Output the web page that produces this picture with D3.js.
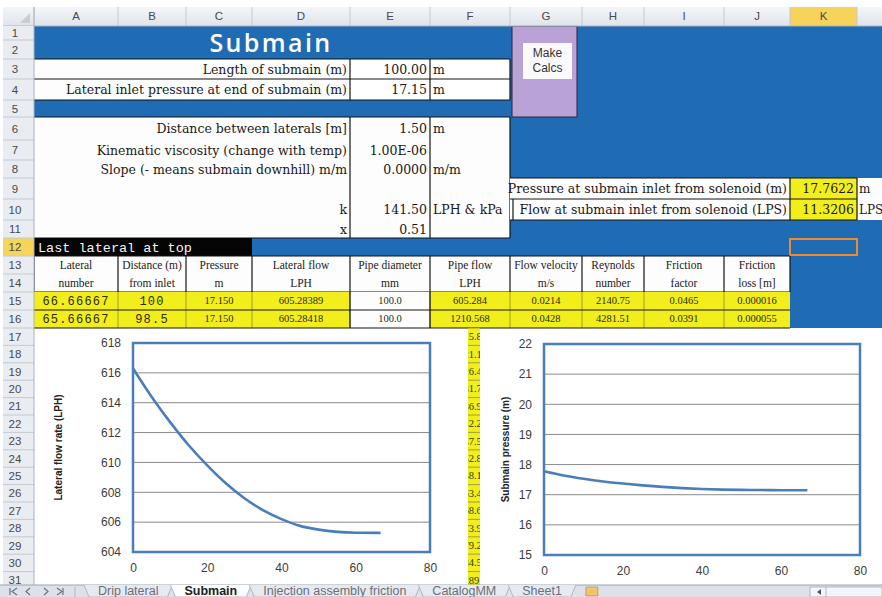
<!DOCTYPE html>
<html>
<head>
<meta charset="utf-8">
<script src="https://cdn.jsdelivr.net/npm/d3@7"></script>
<style>
  body { margin: 0; background: #fff; overflow: hidden; }
  svg { display: block; }
</style>
</head>
<body>
<script>
// ---- sheet data ----
const colLetters = ["A", "B", "C", "D", "E", "F", "G", "H", "I", "J", "K", "L"];
const rowNumbers = d3.range(1, 32);

const inputRows = [3, 4, 6, 7, 8, 9, 10, 11];
const inputLabels = ["Length of submain (m)", "Lateral inlet pressure at end of submain (m)",
  "Distance between laterals [m]", "Kinematic viscosity (change with temp)",
  "Slope (- means submain downhill) m/m", "", "k", "x"];
const inputValues = ["100.00", "17.15", "1.50", "1.00E-06", "0.0000", "", "141.50", "0.51"];
const inputUnits = ["m", "m", "m", "", "m/m", "", "LPH & kPa", ""];

const resultLabels = ["Pressure at submain inlet from solenoid (m)", "Flow at submain inlet from solenoid (LPS)"];
const resultValues = ["17.7622", "11.3206"];
const resultUnits = ["m", "LPS"];

const tableHead1 = ["Lateral", "Distance (m)", "Pressure", "Lateral flow", "Pipe diameter",
  "Pipe flow", "Flow velocity", "Reynolds", "Friction", "Friction"];
const tableHead2 = ["number", "from inlet", "m", "LPH", "mm", "LPH", "m/s", "number", "factor", "loss [m]"];
const tableRow15 = ["66.66667", "100", "17.150", "605.28389", "100.0", "605.284", "0.0214", "2140.75", "0.0465", "0.000016"];
const tableRow16 = ["65.66667", "98.5", "17.150", "605.28418", "100.0", "1210.568", "0.0428", "4281.51", "0.0391", "0.000055"];
// pipe flow column peeking out between the two charts (rows 17-31)
const hiddenPipeFlow = ["1815.85", "2421.14", "3026.42", "3631.70", "4236.99", "4842.27", "5447.56",
  "6052.84", "6658.12", "7263.41", "7868.69", "8473.98", "9079.26", "9684.54", "10289.8"];

const tabNames = ["Drip lateral", "Submain", "Injection assembly friction", "CatalogMM", "Sheet1"];
const activeTab = "Submain";

// ---- chart data ----
const lateralNumber = [0, 5, 10, 15, 20, 25, 30, 35, 40, 45, 50, 55, 60, 66.67];
const lateralFlow = [616.3, 614.4, 612.7, 611.15, 609.8, 608.6, 607.6, 606.8, 606.2, 605.75, 605.5, 605.35, 605.29, 605.28];
const submainPressure = [17.78, 17.64, 17.53, 17.44, 17.37, 17.31, 17.26, 17.22, 17.19, 17.17, 17.16, 17.155, 17.15, 17.15];
const flowTicks = [604, 606, 608, 610, 612, 614, 616, 618];
const pressureTicks = [15, 16, 17, 18, 19, 20, 21, 22];
const xTicks = [0, 20, 40, 60, 80];

// ---- layout ----
const W = 882, H = 597;
const BLUE = "#1f6cb4", YELLOW = "#f2ee1c", LINE = "#151515";
const serif = "'Liberation Serif', 'DejaVu Serif', serif";
const wideSerif = "'DejaVu Serif', 'Liberation Serif', serif";
const sans = "'Liberation Sans', Arial, sans-serif";
const mono = "'Liberation Mono', 'DejaVu Sans Mono', monospace";

const colEdges = [34, 118, 186, 252, 350, 430, 510, 582, 644, 724, 790, 857, 940];
const rowEdges = [26, 40, 59, 79, 100, 117, 140, 160, 178, 199, 220, 238, 256, 274, 292, 310, 328];
while (rowEdges.length < 33) rowEdges.push(rowEdges[rowEdges.length - 1] + 17.4);

const cx = c => colEdges[c];                 // c = 0 for column A
const ry = r => rowEdges[r - 1];             // r = sheet row number
const midX = c => (colEdges[c] + colEdges[c + 1]) / 2;
const midY = r => (rowEdges[r - 1] + rowEdges[r]) / 2;

const svg = d3.select("body").append("svg").attr("width", W).attr("height", H);
const defs = svg.append("defs");
svg.append("rect").attr("width", W).attr("height", H).attr("fill", "#fff");

function cell(c0, c1, r0, r1, fill, stroke) {
  return svg.append("rect")
    .attr("x", cx(c0)).attr("y", ry(r0))
    .attr("width", cx(c1 + 1) - cx(c0)).attr("height", ry(r1 + 1) - ry(r0))
    .attr("fill", fill)
    .attr("stroke", stroke || "none").attr("stroke-width", 1.2);
}
function hline(x1, x2, y, col, w) {
  svg.append("line").attr("x1", x1).attr("x2", x2).attr("y1", y).attr("y2", y)
    .attr("stroke", col || LINE).attr("stroke-width", w || 1.2);
}
function vline(x, y1, y2, col, w) {
  svg.append("line").attr("x1", x).attr("x2", x).attr("y1", y1).attr("y2", y2)
    .attr("stroke", col || LINE).attr("stroke-width", w || 1.2);
}
let clipId = 0;
function clipFor(x, y, w, h) {
  const id = "clip" + (clipId++);
  defs.append("clipPath").attr("id", id).append("rect")
    .attr("x", x).attr("y", y).attr("width", w).attr("height", h);
  return `url(#${id})`;
}
function label(x, y, txt, opts) {
  const o = Object.assign({ size: 12.5, family: wideSerif, fill: "#1a1a1a", anchor: "start", weight: "normal" }, opts);
  return svg.append("text").attr("x", x).attr("y", y)
    .attr("text-anchor", o.anchor).attr("dominant-baseline", "middle")
    .attr("font-family", o.family).attr("font-size", o.size)
    .attr("font-weight", o.weight).attr("fill", o.fill)
    .attr("letter-spacing", o.spacing || null)
    .attr("clip-path", o.clip || null)
    .text(txt);
}

// ---- sheet background: blue block rows 1-16 ----
svg.append("rect").attr("x", cx(0)).attr("y", ry(1))
  .attr("width", W - cx(0)).attr("height", ry(17) - ry(1)).attr("fill", BLUE);

// title
label(271, 45, "Submain", { size: 25, family: "'Open Sans', 'DejaVu Sans', sans-serif", fill: "#fff", anchor: "middle", spacing: 2.4, weight: 600 });

// input block
cell(0, 3, 3, 3, "#fdfdfd"); cell(4, 4, 3, 3, "#fff"); cell(5, 5, 3, 3, "#fff");
cell(0, 3, 4, 4, "#fdfdfd"); cell(4, 4, 4, 4, "#fff"); cell(5, 5, 4, 4, "#fff");
cell(0, 5, 6, 11, "#fdfdfd");
[ry(3), ry(4), ry(5)].forEach(y => hline(cx(0), cx(6), y));
hline(cx(0), cx(6), ry(6)); hline(cx(0), cx(6), ry(12));
[cx(4), cx(5), cx(6)].forEach(x => { vline(x, ry(3), ry(5)); vline(x, ry(6), ry(12)); });

inputRows.forEach((r, i) => {
  label(cx(4) - 3, midY(r) + 1, inputLabels[i], { anchor: "end" });
  label(cx(5) - 3, midY(r) + 1, inputValues[i], { anchor: "end" });
  label(cx(5) + 3, midY(r) + 1, inputUnits[i]);
});

// results rows 9-10
[9, 10].forEach((r, i) => {
  cell(6, 9, r, r, "#fdfdfd");
  cell(10, 10, r, r, YELLOW);
  svg.append("rect").attr("x", cx(11)).attr("y", ry(r)).attr("width", W - cx(11))
    .attr("height", ry(r + 1) - ry(r)).attr("fill", "#fdfdfd");
  label(cx(10) - 3, midY(r) + 1, resultLabels[i], { anchor: "end" });
  label(cx(11) - 3, midY(r) + 1, resultValues[i], { anchor: "end" });
  label(cx(11) + 2, midY(r) + 1, resultUnits[i], { size: 12 });
});
hline(cx(6), cx(11), ry(9)); hline(cx(6), cx(11), ry(10)); hline(cx(6), cx(11), ry(11));
vline(cx(6) + 3, ry(10), ry(11));
vline(cx(10), ry(9), ry(11)); vline(cx(11), ry(9), ry(11));

// "Make Calcs" button
svg.append("rect").attr("x", cx(6) + 2).attr("y", ry(1)).attr("width", 65).attr("height", ry(6) - ry(1))
  .attr("fill", "#b8a2d6").attr("stroke", "#2a2540").attr("stroke-width", 1);
svg.append("rect").attr("x", cx(6) + 13).attr("y", 43).attr("width", 49).attr("height", 36)
  .attr("fill", "#faf9fc");
label(cx(6) + 37.5, 54, "Make", { family: sans, size: 12, anchor: "middle", fill: "#333" });
label(cx(6) + 37.5, 69, "Calcs", { family: sans, size: 12, anchor: "middle", fill: "#333" });

// row 12 banner
cell(0, 2, 12, 12, "#050505");
label(cx(0) + 4, midY(12) + 1, "Last lateral at top", { family: mono, size: 13.5, fill: "#f4f4f4" });
svg.append("rect").attr("x", cx(10)).attr("y", ry(12) + 1).attr("width", cx(11) - cx(10))
  .attr("height", ry(13) - ry(12) - 2).attr("fill", "none").attr("stroke", "#f08a2a").attr("stroke-width", 2);

// table header rows 13-14
cell(0, 9, 13, 14, "#fdfdfd");
hline(cx(0), cx(10), ry(13)); hline(cx(0), cx(10), ry(15));
d3.range(0, 11).forEach(c => vline(cx(c), ry(13), ry(15)));
tableHead1.forEach((t, c) => {
  const clip = clipFor(cx(c) + 1, ry(13), cx(c + 1) - cx(c) - 2, ry(15) - ry(13));
  label(midX(c), midY(13) + 1, t, { family: serif, size: 11.5, anchor: "middle", clip });
  label(midX(c), midY(14) + 1, tableHead2[c], { family: serif, size: 11.5, anchor: "middle", clip });
});

// data rows 15-16
[[15, tableRow15], [16, tableRow16]].forEach(([r, vals]) => {
  vals.forEach((v, c) => cell(c, c, r, r, c === 4 ? "#fdfdfd" : YELLOW));
});
d3.range(1, 10).forEach(c => vline(cx(c), ry(15), ry(17), "#8f8c2a", 0.8));
vline(cx(4), ry(15), ry(17)); vline(cx(5), ry(15), ry(17));
hline(cx(0), cx(10), ry(16)); hline(cx(0), cx(10), ry(17));
[[15, tableRow15], [16, tableRow16]].forEach(([r, vals]) => {
  vals.forEach((v, c) => {
    const isMono = c < 2;
    label(midX(c), midY(r) + 1, v, {
      family: isMono ? mono : serif, size: isMono ? 12 : 10.5, anchor: "middle",
      spacing: isMono ? 1.2 : null, fill: "#2a2a10"
    });
  });
});

// ---- row 17+ : white area with pipe-flow strip between charts ----
const stripX0 = 468, stripX1 = 480;
hiddenPipeFlow.forEach((v, i) => {
  const r = 17 + i;
  svg.append("rect").attr("x", stripX0).attr("y", ry(r)).attr("width", stripX1 - stripX0)
    .attr("height", ry(r + 1) - ry(r)).attr("fill", YELLOW);
  hline(stripX0, stripX1, ry(r), "#8f8c2a", 0.8);
  label(cx(5) + 40, midY(r) + 1, v, { family: serif, size: 10.5, anchor: "middle", fill: "#3a3a10",
    clip: clipFor(stripX0, ry(r), stripX1 - stripX0, ry(r + 1) - ry(r)) });
});

// ---- charts ----
function drawChart(xScale, yScale, yTickVals, values, title, titleX) {
  const g = svg.append("g");
  const [px0, px1] = xScale.range();
  const [py1, py0] = yScale.range();
  g.append("g").selectAll("line").data(yTickVals).join("line")
    .attr("x1", px0).attr("x2", px1)
    .attr("y1", d => yScale(d)).attr("y2", d => yScale(d))
    .attr("stroke", "#8a8a8a").attr("stroke-width", 1);

  const yAxis = g.append("g").attr("transform", `translate(${px0},0)`)
    .call(d3.axisLeft(yScale).tickValues(yTickVals).tickFormat(d3.format("d")).tickSize(0).tickPadding(12));
  const xAxis = g.append("g").attr("transform", `translate(0,${py1})`)
    .call(d3.axisBottom(xScale).tickValues(xTicks).tickFormat(d3.format("d")).tickSize(0).tickPadding(11));
  [yAxis, xAxis].forEach(a => {
    a.select(".domain").remove();
    a.selectAll("text").attr("font-family", sans).attr("font-size", 12).attr("fill", "#3c3c3c");
  });

  g.append("rect").attr("x", px0).attr("y", py0).attr("width", px1 - px0).attr("height", py1 - py0)
    .attr("fill", "none").attr("stroke", "#4a7ebb").attr("stroke-width", 2.5);

  const line = d3.line().x(d => xScale(d[0])).y(d => yScale(d[1])).curve(d3.curveMonotoneX);
  g.append("path").datum(d3.zip(lateralNumber, values))
    .attr("d", line).attr("fill", "none").attr("stroke", "#4a7ebb").attr("stroke-width", 2.6);

  g.append("text")
    .attr("transform", `translate(${titleX},${(py0 + py1) / 2}) rotate(-90)`)
    .attr("text-anchor", "middle").attr("dominant-baseline", "middle")
    .attr("font-family", sans).attr("font-size", 10).attr("font-weight", "bold").attr("fill", "#222")
    .text(title);
}

const x1 = d3.scaleLinear().domain([0, 80]).range([133, 430]);
const y1 = d3.scaleLinear().domain([604, 618]).range([552, 343]);
drawChart(x1, y1, flowTicks, lateralFlow, "Lateral flow rate (LPH)", 59);

const x2 = d3.scaleLinear().domain([0, 80]).range([544, 860]);
const y2 = d3.scaleLinear().domain([15, 22]).range([555, 344]);
drawChart(x2, y2, pressureTicks, submainPressure, "Submain pressure (m)", 506);

// ---- column header bar ----
const grad = defs.append("linearGradient").attr("id", "hdr").attr("x1", 0).attr("x2", 0).attr("y1", 0).attr("y2", 1);
grad.append("stop").attr("offset", 0).attr("stop-color", "#f4f6f9");
grad.append("stop").attr("offset", 1).attr("stop-color", "#dfe4eb");
svg.append("rect").attr("x", 3).attr("y", 7).attr("width", W - 3).attr("height", ry(1) - 7).attr("fill", "url(#hdr)");
svg.append("rect").attr("x", cx(10)).attr("y", 7).attr("width", cx(11) - cx(10)).attr("height", ry(1) - 7)
  .attr("fill", "#f6d35a");
colLetters.forEach((L, c) => {
  vline(cx(c), 7, ry(1), "#c4cad3", 1);
  if (midX(c) < W - 10) label(midX(c), 17, L, { family: sans, size: 11.5, anchor: "middle", fill: "#4a4a4a" });
});
hline(3, W, ry(1), "#aab2be", 1);

// ---- row header column ----
svg.append("rect").attr("x", 3).attr("y", ry(1)).attr("width", cx(0) - 3).attr("height", H - ry(1)).attr("fill", "#e9ecf1");
svg.append("rect").attr("x", 3).attr("y", ry(12)).attr("width", cx(0) - 3).attr("height", ry(13) - ry(12)).attr("fill", "#f6d35a");
rowNumbers.forEach(r => {
  hline(3, cx(0), ry(r + 1), "#c4cad3", 1);
  label(15, midY(r) + 1, r, { family: sans, size: 11.5, anchor: "middle", fill: "#4a4a4a" });
});
vline(cx(0), 7, H, "#aab2be", 1);
svg.append("path").attr("d", "M20,23 L30,23 L30,13 Z").attr("fill", "#c8ced7");

// ---- sheet tab bar ----
const tabY = 585;
svg.append("rect").attr("x", 0).attr("y", tabY).attr("width", W).attr("height", H - tabY).attr("fill", "#dde2ea");
hline(0, W, tabY, "#9aa3b0", 1);
["M10,588 V595 M17,588 L12,591.5 L17,595", "M30,588 L26,591.5 L30,595", "M44,588 L48,591.5 L44,595", "M57,588 L62,591.5 L57,595 M63,588 V595"]
  .forEach(d => svg.append("path").attr("d", d).attr("fill", "none").attr("stroke", "#6a7380").attr("stroke-width", 1.2));
vline(75, tabY + 2, H, "#b0b7c2", 1);

let tx = 84;
tabNames.forEach(name => {
  const active = name === activeTab;
  const t = label(0, 592, name, { family: sans, size: 12.5, fill: active ? "#222" : "#6a6f78", weight: active ? "bold" : "normal" });
  const w = t.node().getComputedTextLength();
  const pad = 9;
  const path = `M${tx},${tabY} L${tx + 5},${H} L${tx + w + 2 * pad + 5},${H} L${tx + w + 2 * pad + 10},${tabY}`;
  svg.insert("path", () => t.node()).attr("d", path)
    .attr("fill", active ? "#fbfcfd" : "#e6eaf0").attr("stroke", "#a3abb7").attr("stroke-width", 0.8);
  t.attr("x", tx + pad + 5);
  tx += w + 2 * pad + 8;
});
svg.append("rect").attr("x", tx + 12).attr("y", 587).attr("width", 12).attr("height", 9).attr("fill", "#f1c36a").attr("stroke", "#a08a50").attr("stroke-width", 0.6);

// horizontal scrollbar stub
svg.append("rect").attr("x", 810).attr("y", 587).attr("width", 72).attr("height", 10).attr("fill", "#f3f5f8").attr("stroke", "#a3abb7").attr("stroke-width", 0.8);
vline(826, 587, H, "#a3abb7", 0.8);
svg.append("path").attr("d", "M821,589 L817,592 L821,595 Z").attr("fill", "#555");
</script>
</body>
</html>
